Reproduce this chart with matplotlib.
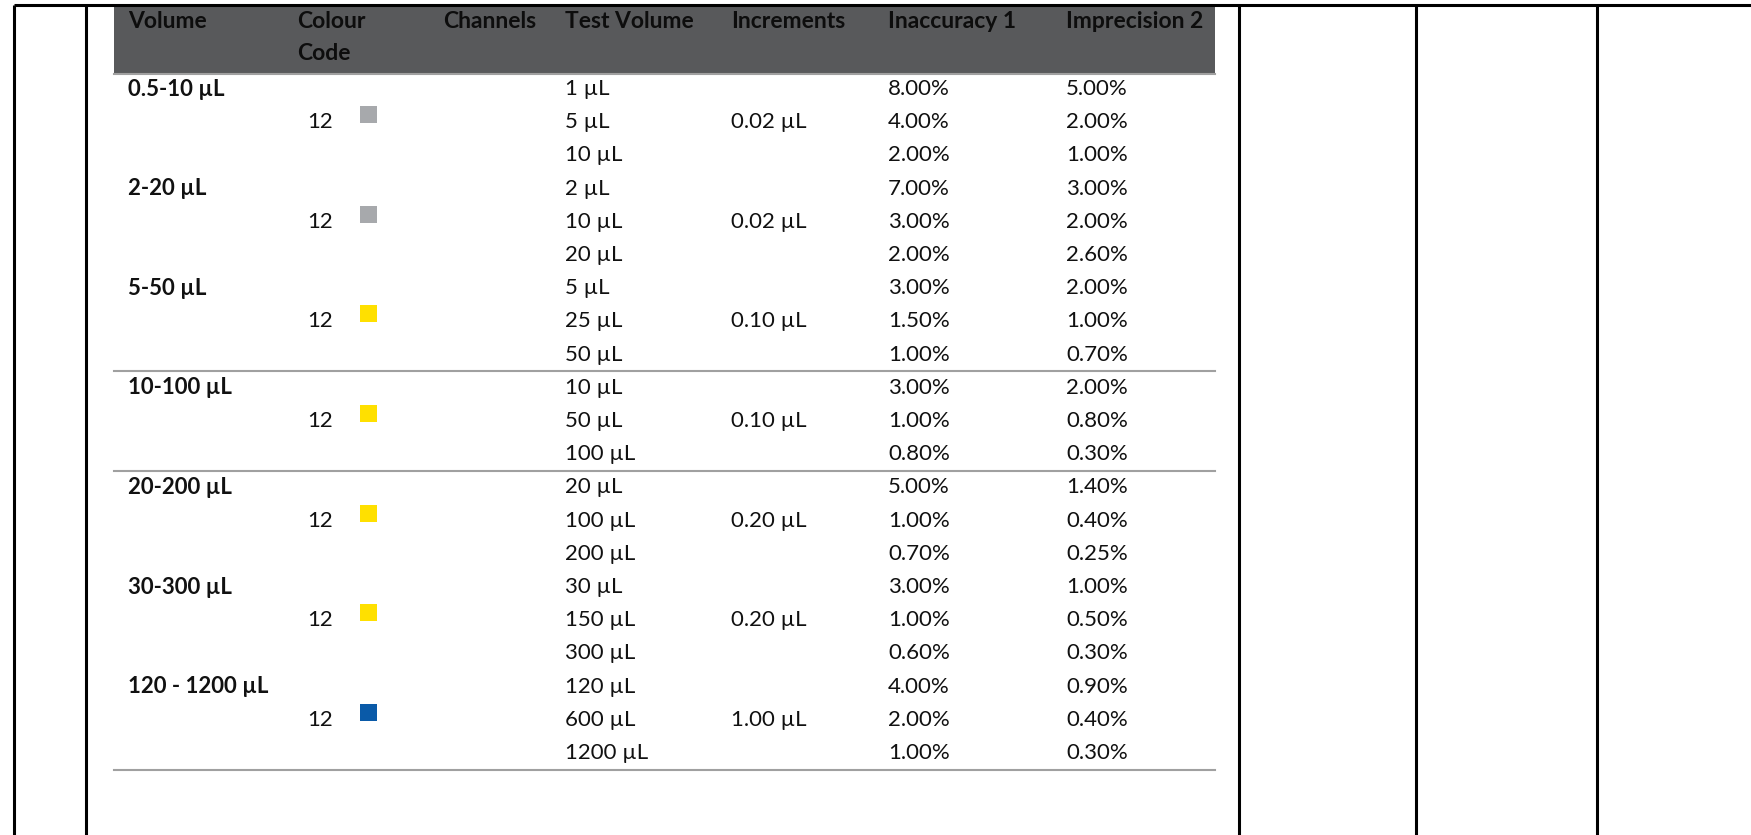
import matplotlib
matplotlib.use("Agg")
import matplotlib.pyplot as plt
from matplotlib.patches import Rectangle

plt.rcParams['font.family'] = ['Lato', 'DejaVu Sans']

# ---- data ----
headers = ["Volume", "Colour\nCode", "Channels", "Test Volume", "Increments", "Inaccuracy 1", "Imprecision 2"]
volumes = ["0.5-10 µL", "2-20 µL", "5-50 µL", "10-100 µL", "20-200 µL", "30-300 µL", "120 - 1200 µL"]
channels = ["12", "12", "12", "12", "12", "12", "12"]
colour_codes = ["#a7a9ac", "#a7a9ac", "#ffe000", "#ffe000", "#ffe000", "#ffe000", "#0a5aa8"]
test_volumes = [["1 µL", "5 µL", "10 µL"], ["2 µL", "10 µL", "20 µL"], ["5 µL", "25 µL", "50 µL"],
                ["10 µL", "50 µL", "100 µL"], ["20 µL", "100 µL", "200 µL"], ["30 µL", "150 µL", "300 µL"],
                ["120 µL", "600 µL", "1200 µL"]]
increments = ["0.02 µL", "0.02 µL", "0.10 µL", "0.10 µL", "0.20 µL", "0.20 µL", "1.00 µL"]
inaccuracy = [["8.00%", "4.00%", "2.00%"], ["7.00%", "3.00%", "2.00%"], ["3.00%", "1.50%", "1.00%"],
              ["3.00%", "1.00%", "0.80%"], ["5.00%", "1.00%", "0.70%"], ["3.00%", "1.00%", "0.60%"],
              ["4.00%", "2.00%", "1.00%"]]
imprecision = [["5.00%", "2.00%", "1.00%"], ["3.00%", "2.00%", "2.60%"], ["2.00%", "1.00%", "0.70%"],
               ["2.00%", "0.80%", "0.30%"], ["1.40%", "0.40%", "0.25%"], ["1.00%", "0.50%", "0.30%"],
               ["0.90%", "0.40%", "0.30%"]]
separator_after_group = [2, 3]  # separator lines after these groups

W, H = 1751, 835
fig = plt.figure(figsize=(W / 100, H / 100), dpi=100)
ax = fig.add_axes([0, 0, 1, 1])
ax.set_xlim(0, W)
ax.set_ylim(H, 0)
ax.axis('off')

# layout
col_x = [128, 297, 443, 565, 731, 888, 1066]
tbl_left, tbl_right = 114, 1215
row0, row_h = 89, 33.2
fs = 16
fs_h = 16.5
tc = "#111111"

# outer frame lines
ax.plot([14, W], [4.5, 4.5], color='black', lw=2.2, solid_capstyle='butt')
for x in [14, 86, 1239, 1416, 1597]:
    ax.plot([x, x], [4.5, H], color='black', lw=2.2, solid_capstyle='butt')

# header
ax.add_patch(Rectangle((tbl_left, 5.5), tbl_right - tbl_left, 68.5, facecolor='#58595b', edgecolor='none'))
ax.plot([tbl_left, tbl_right], [74, 74], color='#a0a0a0', lw=1.5)
for x, h in zip(col_x, headers):
    lines = h.split("\n")
    for j, ln in enumerate(lines):
        ax.text(x, 21 + 32 * j, ln, ha='left', va='center', fontsize=fs_h, fontweight='bold', color='#0d0d0d')

# body
for g in range(len(volumes)):
    base = g * 3
    y0 = row0 + base * row_h
    y1 = row0 + (base + 1) * row_h
    ax.text(col_x[0], y0, volumes[g], ha='left', va='center', fontsize=fs, fontweight='bold', color=tc)
    ax.text(307, y1, channels[g], ha='left', va='center', fontsize=fs, color=tc)
    ax.add_patch(Rectangle((360, y1 - 16), 17, 17, facecolor=colour_codes[g], edgecolor='none'))
    ax.text(col_x[4], y1, increments[g], ha='left', va='center', fontsize=fs, color=tc)
    for k in range(3):
        y = row0 + (base + k) * row_h
        ax.text(col_x[3], y, test_volumes[g][k], ha='left', va='center', fontsize=fs, color=tc)
        ax.text(col_x[5], y, inaccuracy[g][k], ha='left', va='center', fontsize=fs, color=tc)
        ax.text(col_x[6], y, imprecision[g][k], ha='left', va='center', fontsize=fs, color=tc)
    if g in separator_after_group:
        ys = row0 + (base + 2.5) * row_h
        ax.plot([tbl_left, tbl_right], [ys, ys], color='#a0a0a0', lw=1.5)

ys = row0 + (len(volumes) * 3 - 0.5) * row_h
ax.plot([tbl_left, tbl_right], [ys, ys], color='#a0a0a0', lw=1.5)

fig.savefig("out.png", dpi=100)
